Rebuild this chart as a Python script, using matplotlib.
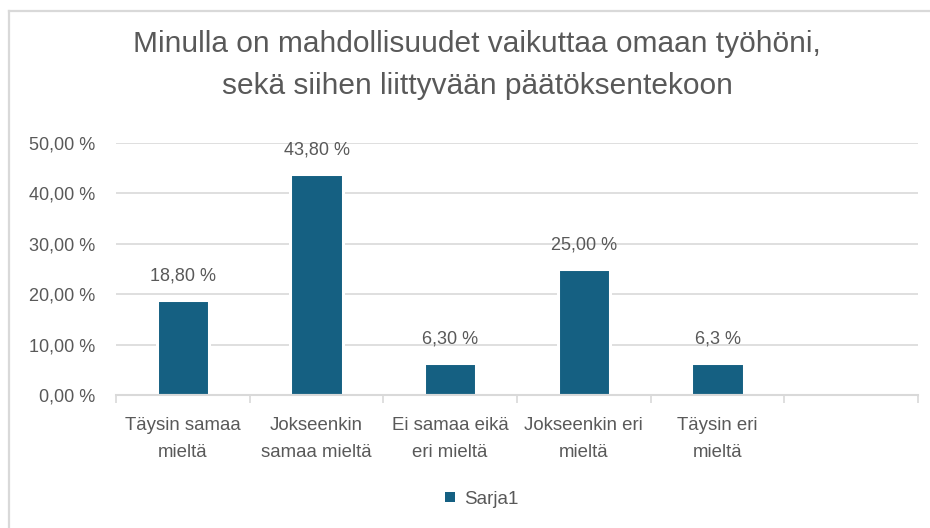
import matplotlib
matplotlib.use("Agg")
import matplotlib.pyplot as plt
from matplotlib import font_manager
from matplotlib.lines import Line2D
from matplotlib.patches import Patch
import numpy as np

# ---- data ----
categories = ["Täysin samaa\nmieltä", "Jokseenkin\nsamaa mieltä", "Ei samaa eikä\neri mieltä",
              "Jokseenkin eri\nmieltä", "Täysin eri\nmieltä", ""]
values = [18.8, 43.8, 6.3, 25.0, 6.3]
value_labels = ["18,80 %", "43,80 %", "6,30 %", "25,00 %", "6,3 %"]
y_ticks = [0, 10, 20, 30, 40, 50]
y_tick_labels = ["0,00 %", "10,00 %", "20,00 %", "30,00 %", "40,00 %", "50,00 %"]
series_name = "Sarja1"
title = "Minulla on mahdollisuudet vaikuttaa omaan työhöni,\nsekä siihen liittyvään päätöksentekoon"

names = {f.name for f in font_manager.fontManager.ttflist}
narrow = "Liberation Sans Narrow" if "Liberation Sans Narrow" in names else "Liberation Sans"
regular = "Liberation Sans"

bar_color = "#156082"
text_color = "#595959"
grid_color = "#d9d9d9"

W, H = 930, 528
fig = plt.figure(figsize=(W / 100, H / 100), dpi=100)
fig.patch.set_facecolor("white")

# chart border (partially visible)
fig.add_artist(Line2D([9 / W, 1], [1 - 11 / H, 1 - 11 / H], color=grid_color, lw=1.6))
fig.add_artist(Line2D([9 / W, 9 / W], [0, 1 - 11 / H], color=grid_color, lw=1.6))

left, right, bottom, top = 116 / W, 918 / W, 1 - 395 / H, 1 - 143 / H
ax = fig.add_axes([left, bottom, right - left, top - bottom])

x = np.arange(len(values))
ax.bar(x, values, width=0.39, color=bar_color, edgecolor="white", linewidth=2.2, zorder=2)

ax.set_xlim(-0.5, len(categories) - 0.5)
ax.set_ylim(0, 50)
ax.set_yticks(y_ticks)
ax.set_yticklabels(y_tick_labels, fontfamily=regular, fontsize=13, color=text_color)
ax.yaxis.grid(True, color=grid_color, lw=1.2, zorder=0)
ax.set_axisbelow(True)
ax.tick_params(axis="y", length=0, pad=15)

ax.set_xticks(np.arange(len(categories)))
ax.set_xticklabels(categories, fontfamily=narrow, fontsize=13.4, color=text_color)
for lab in ax.get_xticklabels():
    lab.set_linespacing(1.78)
ax.set_xticks(np.arange(len(categories) + 1) - 0.5, minor=True)
ax.tick_params(axis="x", which="major", length=0, pad=16)
ax.tick_params(axis="x", which="minor", length=6, color=grid_color, width=1.2)

for s in ["top", "right", "left"]:
    ax.spines[s].set_visible(False)
ax.spines["bottom"].set_color(grid_color)
ax.spines["bottom"].set_linewidth(1.5)
ax.spines["bottom"].set_zorder(3)

for xi, v, lab in zip(x, values, value_labels):
    ax.annotate(lab, (xi, v), xytext=(0, 17.5), textcoords="offset points",
                ha="center", va="center", fontfamily=regular, fontsize=13, color=text_color)

fig.text(477 / W, 1 - 65 / H, title, ha="center", va="center", fontfamily=narrow,
         fontsize=21.5, color=text_color, linespacing=1.65)

handle = Patch(facecolor=bar_color, edgecolor="none")
fig.legend([handle], [series_name], loc="center", bbox_to_anchor=(482 / W, 1 - 499 / H),
           frameon=False, handlelength=0.5, handleheight=0.5, handletextpad=0.5,
           prop={"family": regular, "size": 13.5}, labelcolor=text_color)

fig.savefig("out.png", dpi=100, facecolor="white")
